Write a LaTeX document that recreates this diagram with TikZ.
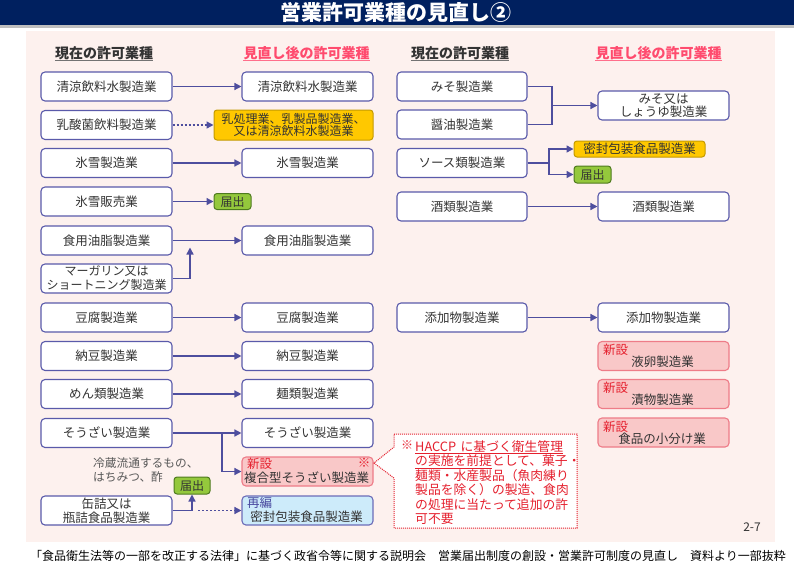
\documentclass[tikz,border=0pt]{standalone}
\usepackage{fontspec}
\setmainfont{Noto Sans CJK JP}
\usetikzlibrary{arrows.meta}
\definecolor{navy}{HTML}{00205F}
\definecolor{bgpink}{HTML}{FDF1EE}
\definecolor{boxc}{HTML}{5A5AAA}
\definecolor{arrc}{HTML}{4E4E9E}
\definecolor{txt}{HTML}{333333}
\definecolor{hdrred}{HTML}{FF4B6E}
\definecolor{yel}{HTML}{FFC800}
\definecolor{yelb}{HTML}{C49A00}
\definecolor{grn}{HTML}{94C83C}
\definecolor{grnb}{HTML}{4E7A1E}
\definecolor{pinkf}{HTML}{F9C8C8}
\definecolor{pinkb}{HTML}{EE7C88}
\definecolor{bluef}{HTML}{CDEBFA}
\definecolor{blueb}{HTML}{6C6CB8}
\definecolor{redt}{HTML}{E5202E}
\definecolor{bluet}{HTML}{4A4AA0}
\tikzset{
  biz/.style={draw=boxc, fill=white, rounded corners=4pt, line width=1.1pt,
    minimum width=131pt, minimum height=29pt, inner sep=0pt, align=center,
    font=\fontsize{12.5}{13}\selectfont, text=txt},
  yelbox/.style={draw=yelb, fill=yel, rounded corners=3pt, line width=1pt,
    inner sep=0pt, align=center, text=txt, font=\fontsize{12}{11.5}\selectfont},
  grnbox/.style={draw=grnb, fill=grn, rounded corners=3pt, line width=1pt,
    minimum width=37pt, minimum height=16pt, inner sep=0pt, text=txt,
    font=\fontsize{12}{12}\selectfont},
  newbox/.style={draw=pinkb, fill=pinkf, rounded corners=4pt, line width=1.1pt,
    minimum width=131pt, minimum height=29pt, inner sep=0pt},
  rebox/.style={draw=blueb, fill=bluef, rounded corners=4pt, line width=1.1pt,
    minimum width=131pt, minimum height=29pt, inner sep=0pt},
  tagred/.style={text=redt, inner sep=0pt, font=\fontsize{12.5}{13}\selectfont},
  tagblue/.style={text=bluet, inner sep=0pt, font=\fontsize{12.5}{13}\selectfont},
  btxt/.style={text=txt, inner sep=0pt, font=\fontsize{12.5}{13}\selectfont},
  hdrgray/.style={text=txt, inner sep=0pt, font=\bfseries\fontsize{14}{14}\selectfont},
  hdrpink/.style={text=hdrred, inner sep=0pt, font=\bfseries\fontsize{14}{14}\selectfont},
  conn/.style={draw=arrc, line width=1.4pt, -{Triangle[length=7pt,width=7pt]}},
  plain/.style={draw=arrc, line width=1.4pt},
  dotconn/.style={conn, dash pattern=on 2pt off 2pt}
}
\begin{document}
\begin{tikzpicture}[x=1pt,y=-1pt]
\useasboundingbox (0,0) rectangle (794,576);
\fill[white] (0,0) rectangle (794,576);
\fill[navy] (0,0) rectangle (794,25);
\fill[black!25] (0,25) rectangle (794,27.5);
\fill[bgpink] (26,31) rectangle (775,542);
\node[text=white, inner sep=0pt, font=\bfseries\fontsize{21}{21}\selectfont] (title) at (396,12.5) {営業許可業種の見直し②};

% headers
\node[hdrgray] (h1) at (104,53) {現在の許可業種};
\node[hdrpink] (h2) at (306.5,53) {見直し後の許可業種};
\node[hdrgray] (h3) at (460,53) {現在の許可業種};
\node[hdrpink] (h4) at (658.5,53) {見直し後の許可業種};
\draw[black!55, line width=1.8pt] (h1.west |- 0,60.5) -- (h1.east |- 0,60.5);
\draw[hdrred!80, line width=1.5pt] (h2.west |- 0,60.5) -- (h2.east |- 0,60.5);
\draw[black!55, line width=1.8pt] (h3.west |- 0,60.5) -- (h3.east |- 0,60.5);
\draw[hdrred!80, line width=1.5pt] (h4.west |- 0,60.5) -- (h4.east |- 0,60.5);

% left current
\node[biz] (L1) at (106.5,86.5) {清涼飲料水製造業};
\node[biz] (L2) at (106.5,125) {乳酸菌飲料製造業};
\node[biz] (L3) at (106.5,163) {氷雪製造業};
\node[biz] (L4) at (106.5,201.5) {氷雪販売業};
\node[biz] (L5) at (106.5,240.5) {食用油脂製造業};
\node[biz, font=\fontsize{12}{14}\selectfont] (L6) at (106.5,278.5) {マーガリン又は\\ショートニング製造業};
\node[biz] (L7) at (106.5,317.5) {豆腐製造業};
\node[biz] (L8) at (106.5,356) {納豆製造業};
\node[biz] (L9) at (106.5,394) {めん類製造業};
\node[biz] (L10) at (106.5,433) {そうざい製造業};
\node[biz, font=\fontsize{12.5}{14.5}\selectfont] (L11) at (106.5,510.5) {缶詰又は\\瓶詰食品製造業};

% left revised
\node[biz] (M1) at (307.5,86.5) {清涼飲料水製造業};
\node[yelbox, minimum width=159pt, minimum height=30pt] (Y1) at (293.5,125) {乳処理業、乳製品製造業、\\又は清涼飲料水製造業};
\node[biz] (M3) at (307.5,163) {氷雪製造業};
\node[grnbox] (G1) at (232.5,201.5) {届出};
\node[biz] (M5) at (307.5,240.5) {食用油脂製造業};
\node[biz] (M7) at (307.5,317.5) {豆腐製造業};
\node[biz] (M8) at (307.5,356) {納豆製造業};
\node[biz] (M9) at (307.5,394) {麺類製造業};
\node[biz] (M10) at (307.5,433) {そうざい製造業};
\node[newbox] (M11) at (307.5,471.5) {};
\node[tagred, anchor=west] (M11t) at (247,464) {新設};
\node[tagred] (M11s) at (364,463) {※};
\node[btxt] (M11m) at (306.5,478) {複合型そうざい製造業};
\node[rebox] (M12) at (307.5,510.5) {};
\node[tagblue, anchor=west] (M12t) at (247,503) {再編};
\node[btxt] (M12m) at (306.5,517) {密封包装食品製造業};
\node[grnbox, minimum width=36pt, minimum height=17pt] (G2) at (192,485.5) {届出};
\node[text=black!65, inner sep=0pt, align=left, anchor=west, font=\fontsize{11.7}{14}\selectfont] (note1) at (93,470) {冷蔵流通するもの、\\はちみつ、酢};

% left connectors
\draw[conn] (L1.east) -- (M1.west);
\draw[dotconn] (L2.east) -- (Y1.west);
\draw[conn] (L3.east) -- (M3.west);
\draw[conn] (L4.east) -- (G1.west);
\draw[conn] (L5.east) -- (M5.west);
\coordinate (mj) at (190,247.5);
\draw[conn] (L6.east) -| (mj);
\draw[conn] (L7.east) -- (M7.west);
\draw[conn] (L8.east) -- (M8.west);
\draw[conn] (L9.east) -- (M9.west);
\draw[conn] (L10.east) -- (M10.west);
\coordinate (sb) at (222,433);
\draw[conn] (sb) |- (M11.west);
\draw[conn] (L11.east) -| (G2.south);
\coordinate (kd) at (198,510.5);
\draw[dotconn] (kd) -- (M12.west);

% right current
\node[biz, minimum width=130pt] (R1) at (462,86.5) {みそ製造業};
\node[biz, minimum width=130pt] (R2) at (462,124.5) {醤油製造業};
\node[biz, minimum width=130pt] (R3) at (462,163) {ソース類製造業};
\node[biz, minimum width=130pt] (R4) at (462,206.5) {酒類製造業};
\node[biz, minimum width=130pt] (R5) at (462,317.5) {添加物製造業};

% right revised
\node[biz, font=\fontsize{12.5}{12.5}\selectfont] (S1) at (663.5,105.5) {みそ又は\\しょうゆ製造業};
\node[yelbox, minimum width=131pt, minimum height=16pt, font=\fontsize{12.5}{12.5}\selectfont] (Y2) at (639.5,149) {密封包装食品製造業};
\node[grnbox, minimum height=17pt] (G3) at (592.5,174.5) {届出};
\node[biz] (S4) at (663.5,206.5) {酒類製造業};
\node[biz] (S5) at (663.5,317.5) {添加物製造業};
\node[newbox] (N1) at (663.5,356) {};
\node[tagred] (N1t) at (615.5,350) {新設};
\node[btxt] (N1m) at (662.5,362) {液卵製造業};
\node[newbox] (N2) at (663.5,394) {};
\node[tagred] (N2t) at (615.5,388) {新設};
\node[btxt] (N2m) at (662.5,400) {漬物製造業};
\node[newbox] (N3) at (663.5,432.5) {};
\node[tagred] (N3t) at (615.5,427) {新設};
\node[btxt] (N3m) at (662,439) {食品の小分け業};

% right connectors
\coordinate (mj2) at (552,105.5);
\draw[plain] (R1.east) -| (mj2);
\draw[plain] (R2.east) -| (mj2);
\draw[conn] (mj2) -- (S1.west);
\coordinate (sj) at (549,163);
\draw[plain] (R3.east) -- (sj);
\draw[conn] (sj) |- (Y2.west);
\draw[conn] (sj) |- (G3.west);
\draw[conn] (R4.east) -- (S4.west);
\draw[conn] (R5.east) -- (S5.west);

% callout
\coordinate (ptip) at (374,463);
\draw[redt, fill=white, line width=1pt, dash pattern=on 1pt off 1pt]
  (394,434) -- (577,434) -- (577,528) -- (394,528) -- (394,478) -- (ptip) -- (394,447) -- cycle;
\node[text=redt, inner sep=0pt, font=\fontsize{12}{12}\selectfont] (cm) at (407,445) {※};
\node[text=redt, inner sep=0pt, align=left, anchor=north west, font=\fontsize{12.8}{14.5}\selectfont] (ctext) at (415,440)
  {\underline{HACCP\hspace{0.35em}に基づく衛生管理}\\\underline{の実施を前提}として、菓子・\\麺類・水産製品（魚肉練り\\製品を除く）の製造、食肉\\の処理に当たって追加の許\\可不要};

\node[text=txt, inner sep=0pt, font=\fontsize{12}{12}\selectfont] (pg) at (752,527) {2-7};
\node[text=black, inner sep=0pt, font=\fontsize{12}{12}\selectfont] (foot) at (408,556) {「食品衛生法等の一部を改正する法律」に基づく政省令等に関する説明会　営業届出制度の創設・営業許可制度の見直し　資料より一部抜粋};
\end{tikzpicture}
\end{document}
